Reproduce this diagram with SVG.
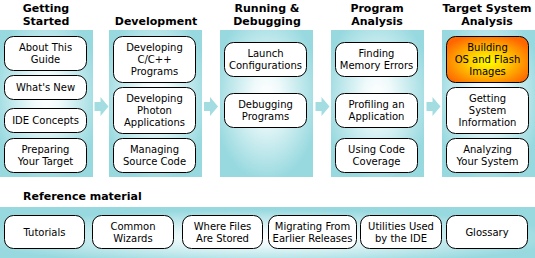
<svg xmlns="http://www.w3.org/2000/svg" width="535" height="258" viewBox="0 0 535 258">
<defs>
<radialGradient id="pg" cx="50%" cy="45%" r="58%">
<stop offset="0" stop-color="#ffffff"/>
<stop offset="0.25" stop-color="#f0fafb"/>
<stop offset="1" stop-color="#97d9df"/>
</radialGradient>
<radialGradient id="bg" cx="50%" cy="60%" r="55%">
<stop offset="0" stop-color="#ffffff"/>
<stop offset="0.3" stop-color="#eaf8f9"/>
<stop offset="1" stop-color="#97d9df"/>
</radialGradient>
<radialGradient id="og" cx="50%" cy="55%" r="60%">
<stop offset="0" stop-color="#ffff00"/>
<stop offset="0.4" stop-color="#ffcc00"/>
<stop offset="1" stop-color="#ff6600"/>
</radialGradient>
<style>
.panel{fill:url(#pg)}
.band{fill:url(#bg)}
.box{fill:#ffffff;stroke:#000000;stroke-width:1}
.hot{fill:url(#og);stroke:#000000;stroke-width:1}
.t{font-family:"DejaVu Sans",Verdana,sans-serif;font-size:10px;fill:#000000;text-anchor:middle}
.h{font-family:"DejaVu Sans",Verdana,sans-serif;font-size:11px;font-weight:bold;fill:#000000;text-anchor:middle}
.arrow{fill:#a3dde2}
</style>
</defs>

<g id="panels">
<rect class="panel" x="0" y="30" width="93" height="147"/>
<rect class="panel" x="109" y="30" width="93" height="147"/>
<rect class="panel" x="220" y="30" width="93" height="147"/>
<rect class="panel" x="331" y="30" width="93" height="147"/>
<rect class="panel" x="442" y="30" width="93" height="147"/>
<rect class="band" x="0" y="207" width="535" height="51"/>
</g>

<g id="titles">
<text class="h" x="46" y="11.5">Getting</text>
<text class="h" x="46" y="24.5">Started</text>
<text class="h" x="156" y="24.5">Development</text>
<text class="h" x="267" y="11.5">Running &amp;</text>
<text class="h" x="267" y="24.5">Debugging</text>
<text class="h" x="377" y="11.5">Program</text>
<text class="h" x="377" y="24.5">Analysis</text>
<text class="h" x="487" y="11.5">Target System</text>
<text class="h" x="487" y="24.5">Analysis</text>
<text class="h" x="23" y="200" style="text-anchor:start">Reference material</text>
</g>

<g id="connectors">
<path class="arrow" d="M94.5,102 H100.5 V97 L108.5,106.5 L100.5,116 V111 H94.5 Z"/>
<path class="arrow" d="M204,102 H210 V97 L218,106.5 L210,116 V111 H204 Z"/>
<path class="arrow" d="M315.5,102 H321.5 V97 L329.5,106.5 L321.5,116 V111 H315.5 Z"/>
<path class="arrow" d="M426.5,102 H432.5 V97 L440.5,106.5 L432.5,116 V111 H426.5 Z"/>
</g>

<g id="about">
<rect class="box" x="4.5" y="36.5" width="82" height="34" rx="9"/>
<text class="t" x="45.5" y="51">About This</text>
<text class="t" x="45.5" y="63">Guide</text>
</g>
<g id="whatsnew">
<rect class="box" x="4.5" y="75.5" width="82" height="24" rx="9"/>
<text class="t" x="45.5" y="91">What's New</text>
</g>
<g id="ideconcepts">
<rect class="box" x="4.5" y="108.5" width="82" height="24" rx="9"/>
<text class="t" x="45.5" y="124">IDE Concepts</text>
</g>
<g id="preparing">
<rect class="box" x="4.5" y="138.5" width="82" height="34" rx="9"/>
<text class="t" x="45.5" y="153">Preparing</text>
<text class="t" x="45.5" y="165">Your Target</text>
</g>

<g id="devcpp">
<rect class="box" x="113.5" y="36.5" width="82" height="46" rx="9"/>
<text class="t" x="154.5" y="51">Developing</text>
<text class="t" x="154.5" y="63">C/C++</text>
<text class="t" x="154.5" y="75">Programs</text>
</g>
<g id="devphoton">
<rect class="box" x="113.5" y="87.5" width="82" height="46" rx="9"/>
<text class="t" x="154.5" y="102">Developing</text>
<text class="t" x="154.5" y="114">Photon</text>
<text class="t" x="154.5" y="126">Applications</text>
</g>
<g id="managing">
<rect class="box" x="113.5" y="138.5" width="82" height="34" rx="9"/>
<text class="t" x="154.5" y="153">Managing</text>
<text class="t" x="154.5" y="165">Source Code</text>
</g>

<g id="launch">
<rect class="box" x="224.5" y="42.5" width="82" height="34" rx="9"/>
<text class="t" x="265.5" y="57">Launch</text>
<text class="t" x="265.5" y="69">Configurations</text>
</g>
<g id="debugging">
<rect class="box" x="224.5" y="93.5" width="82" height="34" rx="9"/>
<text class="t" x="265.5" y="108">Debugging</text>
<text class="t" x="265.5" y="120">Programs</text>
</g>

<g id="memory">
<rect class="box" x="335.5" y="42.5" width="82" height="34" rx="9"/>
<text class="t" x="376.5" y="57">Finding</text>
<text class="t" x="376.5" y="69">Memory Errors</text>
</g>
<g id="profiling">
<rect class="box" x="335.5" y="93.5" width="82" height="34" rx="9"/>
<text class="t" x="376.5" y="108">Profiling an</text>
<text class="t" x="376.5" y="120">Application</text>
</g>
<g id="coverage">
<rect class="box" x="335.5" y="138.5" width="82" height="34" rx="9"/>
<text class="t" x="376.5" y="153">Using Code</text>
<text class="t" x="376.5" y="165">Coverage</text>
</g>

<g id="building">
<rect class="hot" x="446.5" y="36.5" width="82" height="46" rx="9"/>
<text class="t" x="487.5" y="51">Building</text>
<text class="t" x="487.5" y="63">OS and Flash</text>
<text class="t" x="487.5" y="75">Images</text>
</g>
<g id="sysinfo">
<rect class="box" x="446.5" y="87.5" width="82" height="46" rx="9"/>
<text class="t" x="487.5" y="102">Getting</text>
<text class="t" x="487.5" y="114">System</text>
<text class="t" x="487.5" y="126">Information</text>
</g>
<g id="analyzing">
<rect class="box" x="446.5" y="138.5" width="82" height="34" rx="9"/>
<text class="t" x="487.5" y="153">Analyzing</text>
<text class="t" x="487.5" y="165">Your System</text>
</g>

<g id="tutorials">
<rect class="box" x="4.5" y="215.5" width="80" height="33" rx="9"/>
<text class="t" x="44.5" y="235.5">Tutorials</text>
</g>
<g id="wizards">
<rect class="box" x="92.5" y="215.5" width="81" height="33" rx="9"/>
<text class="t" x="133" y="229.5">Common</text>
<text class="t" x="133" y="241.5">Wizards</text>
</g>
<g id="files">
<rect class="box" x="182.5" y="215.5" width="80" height="33" rx="9"/>
<text class="t" x="222.5" y="229.5">Where Files</text>
<text class="t" x="222.5" y="241.5">Are Stored</text>
</g>
<g id="migrating">
<rect class="box" x="268.5" y="215.5" width="88" height="33" rx="9"/>
<text class="t" x="312.5" y="229.5">Migrating From</text>
<text class="t" x="312.5" y="241.5">Earlier Releases</text>
</g>
<g id="utilities">
<rect class="box" x="360.5" y="215.5" width="81" height="33" rx="9"/>
<text class="t" x="401" y="229.5">Utilities Used</text>
<text class="t" x="401" y="241.5">by the IDE</text>
</g>
<g id="glossary">
<rect class="box" x="446.5" y="215.5" width="81" height="33" rx="9"/>
<text class="t" x="487" y="235.5">Glossary</text>
</g>
</svg>
